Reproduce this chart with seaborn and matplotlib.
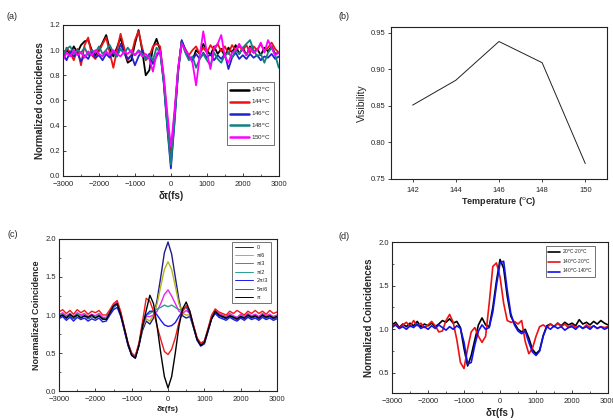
import numpy as np
import pandas as pd
import matplotlib
matplotlib.use("Agg")
import matplotlib.pyplot as plt
import seaborn as sns
from matplotlib.ticker import MultipleLocator

# eixo de atraso (fs), passo de 100 fs
tau = list(range(-3000, 3001, 100))

# (a) coincidencias normalizadas x temperatura
temp_labels = ["142$^{\\rm o}$C", "144$^{\\rm o}$C", "146$^{\\rm o}$C", "148$^{\\rm o}$C", "150$^{\\rm o}$C"]
temp_colors = ["#000000", "#ee1111", "#2222cc", "#118080", "#ff00ff"]
a_142 = [0.95, 1.00, 0.97, 1.03, 0.98, 1.04, 1.07, 1.08, 1.00, 0.96,
         1.00, 1.06, 1.12, 1.01, 0.95, 1.02, 1.10, 0.99, 0.90, 0.92,
         1.05, 1.16, 1.00, 0.80, 0.84, 1.02, 1.09, 1.00, 0.76, 0.42,
         0.15, 0.48, 0.84, 1.07, 1.00, 0.94, 0.92, 1.00, 0.97, 1.05,
         1.00, 0.96, 1.03, 0.97, 1.01, 0.95, 1.02, 0.98, 1.04, 0.97,
         1.02, 0.96, 1.03, 0.98, 1.01, 0.96, 1.02, 0.99, 1.03, 0.97, 0.98]
a_144 = [0.93, 1.02, 0.98, 0.92, 1.01, 0.88, 1.04, 1.10, 0.96, 0.93,
         0.99, 1.05, 1.10, 0.98, 0.86, 1.00, 1.13, 1.02, 0.92, 0.96,
         1.08, 1.15, 1.02, 0.92, 0.95, 1.03, 1.05, 1.03, 0.78, 0.45,
         0.12, 0.47, 0.85, 1.07, 1.01, 0.96, 1.00, 1.03, 0.97, 1.02,
         0.98, 1.04, 1.00, 1.05, 0.99, 1.03, 0.97, 1.04, 1.00, 1.03,
         1.00, 1.04, 0.98, 1.03, 1.00, 1.05, 0.99, 1.02, 1.06, 1.01, 0.98]
a_146 = [0.97, 0.92, 0.99, 0.95, 0.98, 0.91, 0.96, 0.93, 0.99, 0.94,
         0.96, 0.92, 0.97, 0.94, 0.99, 0.95, 1.05, 0.98, 0.93, 0.96,
         0.88, 0.95, 1.00, 0.93, 0.97, 0.89, 0.95, 1.00, 0.74, 0.38,
         0.06, 0.42, 0.82, 1.08, 1.00, 0.95, 0.92, 0.97, 0.93, 0.98,
         0.94, 0.97, 0.92, 0.96, 0.93, 0.97, 0.85, 0.94, 0.98, 0.93,
         0.96, 0.93, 0.97, 0.94, 0.96, 0.92, 0.95, 0.94, 0.97, 0.93, 0.95]
a_148 = [0.96, 1.01, 1.03, 0.97, 1.00, 0.98, 1.02, 0.96, 1.00, 0.98,
         1.03, 0.97, 1.00, 1.04, 0.98, 0.95, 1.01, 0.97, 1.02, 0.98,
         0.96, 1.00, 0.97, 0.93, 0.96, 0.92, 1.02, 0.98, 0.75, 0.40,
         0.09, 0.44, 0.83, 1.06, 0.98, 0.92, 0.95, 0.86, 0.93, 0.97,
         0.92, 0.88, 0.98, 0.93, 0.90, 0.96, 0.98, 0.94, 1.00, 0.97,
         1.02, 1.05, 1.08, 1.00, 0.95, 0.97, 0.90, 0.98, 1.02, 0.96, 0.86]
a_150 = [0.92, 0.98, 0.95, 1.00, 0.96, 0.98, 0.94, 0.99, 0.96, 1.00,
         0.97, 0.95, 0.99, 0.96, 1.00, 0.97, 0.95, 0.99, 0.97, 1.00,
         0.96, 0.99, 0.95, 0.97, 0.93, 0.83, 0.97, 1.00, 0.80, 0.50,
         0.23, 0.52, 0.86, 1.05, 1.00, 0.96, 0.90, 0.72, 0.95, 1.15,
         0.98, 0.85, 1.02, 1.05, 1.12, 0.95, 0.90, 0.98, 1.00, 1.05,
         1.00, 0.96, 1.02, 0.98, 1.00, 1.06, 0.98, 1.08, 1.02, 0.96, 0.98]

# (b) visibilidade x temperatura
temperatures = [142, 144, 146, 148, 150]
visibility = [0.851, 0.885, 0.938, 0.909, 0.771]

# (c) coincidencia x fase
phase_labels = ["0", "π/6", "π/3", "π/2", "2π/3", "5π/6", "π"]
phase_colors = ["#1c1c8c", "#b5b51a", "#ee22ee", "#2aa090", "#1a1aee", "#ee1a1a", "#000000"]
c_0 = [0.97, 1.00, 0.96, 0.99, 0.95, 1.00, 0.97, 0.99, 0.95, 0.98,
       0.96, 0.99, 0.94, 0.95, 1.02, 1.10, 1.14, 1.00, 0.80, 0.60,
       0.47, 0.44, 0.60, 0.80, 0.92, 0.88, 0.96, 1.20, 1.50, 1.82,
       1.96, 1.80, 1.50, 1.20, 0.99, 0.96, 0.98, 0.84, 0.67, 0.60,
       0.63, 0.79, 0.96, 1.04, 0.99, 0.97, 0.95, 0.99, 0.96, 0.94,
       0.98, 0.95, 0.99, 0.96, 0.98, 0.95, 0.99, 0.96, 0.98, 0.95, 0.97]
c_pi6 = [0.99, 1.02, 0.98, 1.01, 0.97, 1.02, 0.99, 1.01, 0.97, 1.00,
         0.98, 1.01, 0.96, 0.96, 1.04, 1.12, 1.16, 1.02, 0.81, 0.61,
         0.48, 0.45, 0.61, 0.84, 0.95, 0.92, 1.00, 1.15, 1.38, 1.60,
         1.70, 1.60, 1.38, 1.15, 1.02, 1.00, 1.00, 0.85, 0.68, 0.61,
         0.64, 0.80, 0.97, 1.05, 1.01, 0.99, 0.97, 1.01, 0.98, 0.96,
         1.00, 0.97, 1.01, 0.98, 1.00, 0.97, 1.01, 0.98, 1.00, 0.97, 0.99]
c_pi3 = [1.00, 1.03, 0.99, 1.02, 0.98, 1.03, 1.00, 1.02, 0.98, 1.01,
         0.99, 1.02, 0.97, 0.97, 1.05, 1.13, 1.17, 1.03, 0.82, 0.62,
         0.49, 0.46, 0.62, 0.86, 0.98, 0.98, 1.00, 1.05, 1.15, 1.27,
         1.33, 1.25, 1.15, 1.05, 1.02, 1.06, 1.02, 0.86, 0.69, 0.62,
         0.65, 0.81, 0.98, 1.06, 1.02, 1.00, 0.98, 1.02, 0.99, 0.97,
         1.01, 0.98, 1.02, 0.99, 1.01, 0.98, 1.02, 0.99, 1.01, 0.98, 1.00]
c_pi2 = [0.99, 1.01, 0.97, 1.00, 0.96, 1.01, 0.98, 1.00, 0.96, 0.99,
         0.97, 1.00, 0.95, 0.96, 1.03, 1.11, 1.15, 1.01, 0.81, 0.61,
         0.48, 0.45, 0.61, 0.87, 1.00, 1.02, 1.05, 1.08, 1.10, 1.13,
         1.11, 1.13, 1.10, 1.07, 1.07, 1.10, 1.03, 0.86, 0.68, 0.61,
         0.64, 0.80, 0.97, 1.05, 1.00, 0.98, 0.96, 1.00, 0.97, 0.95,
         0.99, 0.96, 1.00, 0.97, 0.99, 0.96, 1.00, 0.97, 0.99, 0.96, 0.98]
c_2pi3 = [0.95, 0.98, 0.93, 0.97, 0.92, 0.97, 0.94, 0.96, 0.92, 0.95,
          0.93, 0.96, 0.91, 0.92, 1.00, 1.07, 1.10, 0.98, 0.79, 0.60,
          0.47, 0.44, 0.60, 0.88, 1.00, 1.05, 1.05, 1.00, 0.93, 0.87,
          0.85, 0.86, 0.90, 0.98, 1.05, 1.12, 1.02, 0.84, 0.67, 0.59,
          0.62, 0.78, 0.95, 1.02, 0.97, 0.95, 0.93, 0.97, 0.94, 0.92,
          0.96, 0.93, 0.97, 0.94, 0.96, 0.93, 0.97, 0.94, 0.96, 0.93, 0.95]
c_5pi6 = [1.04, 1.07, 1.02, 1.06, 1.01, 1.07, 1.03, 1.06, 1.01, 1.05,
          1.03, 1.06, 1.00, 1.00, 1.07, 1.15, 1.19, 1.04, 0.83, 0.63,
          0.50, 0.46, 0.63, 0.92, 1.22, 1.18, 1.05, 0.85, 0.68, 0.52,
          0.48, 0.55, 0.70, 0.90, 1.05, 1.12, 1.05, 0.87, 0.70, 0.63,
          0.66, 0.82, 1.00, 1.08, 1.04, 1.02, 1.00, 1.05, 1.02, 1.06,
          1.03, 1.00, 1.05, 1.02, 1.06, 1.02, 1.05, 1.01, 1.06, 1.02, 1.04]
c_pi = [0.98, 1.00, 0.96, 1.01, 0.97, 1.00, 0.96, 0.99, 0.97, 1.00,
        0.96, 0.99, 0.95, 0.94, 1.03, 1.12, 1.15, 1.00, 0.82, 0.62,
        0.47, 0.43, 0.60, 0.85, 1.06, 1.26, 1.15, 0.85, 0.50, 0.19,
        0.04, 0.19, 0.50, 0.85, 1.08, 1.17, 1.05, 0.85, 0.68, 0.60,
        0.64, 0.80, 0.95, 1.05, 1.00, 0.98, 0.96, 0.99, 0.97, 0.95,
        0.98, 0.96, 1.00, 0.97, 0.99, 0.96, 1.00, 0.97, 0.99, 0.96, 0.98]

# (d) coincidencias x temperatura dos cristais
pair_labels = ["20$^{\\rm o}$C-20$^{\\rm o}$C", "140$^{\\rm o}$C-20$^{\\rm o}$C", "140$^{\\rm o}$C-140$^{\\rm o}$C"]
pair_colors = ["#000000", "#ee1111", "#1111ee"]
d_20_20 = [1.05, 1.08, 1.02, 1.06, 1.03, 1.07, 1.04, 1.09, 1.03, 1.06,
           1.04, 1.07, 1.03, 1.06, 1.10, 1.08, 1.12, 1.07, 1.09, 1.02,
           0.78, 0.58, 0.70, 0.88, 1.05, 1.13, 1.05, 1.03, 1.25, 1.55,
           1.80, 1.70, 1.38, 1.15, 1.07, 1.00, 0.97, 1.00, 0.90, 0.77,
           0.72, 0.76, 0.93, 1.04, 1.06, 1.03, 1.07, 1.04, 1.08, 1.05,
           1.07, 1.04, 1.11, 1.06, 1.08, 1.05, 1.09, 1.06, 1.10, 1.07, 1.05]
d_140_20 = [1.03, 1.06, 1.01, 1.05, 1.08, 1.03, 1.10, 1.04, 1.07, 1.02,
            1.05, 1.09, 1.04, 0.97, 0.98, 1.10, 1.17, 1.08, 0.88, 0.62,
            0.55, 0.78, 0.97, 1.02, 0.92, 0.85, 0.92, 1.30, 1.72, 1.76,
            1.60, 1.30, 1.10, 1.08, 1.09, 1.06, 1.10, 0.86, 0.72, 0.78,
            0.92, 1.03, 1.05, 1.02, 1.06, 1.03, 1.07, 1.03, 1.06, 1.02,
            1.05, 1.02, 1.04, 1.01, 1.05, 1.02, 1.04, 1.01, 1.03, 1.02, 1.03]
d_140_140 = [1.02, 1.05, 1.01, 1.03, 1.00, 1.04, 1.02, 1.06, 1.01, 1.03,
             1.00, 1.04, 1.01, 1.05, 1.02, 0.99, 1.03, 1.00, 1.04, 1.01,
             0.85, 0.60, 0.62, 0.82, 0.98, 1.05, 1.00, 1.02, 1.20, 1.50,
             1.76, 1.78, 1.45, 1.18, 1.05, 0.98, 0.95, 0.98, 0.85, 0.74,
             0.70, 0.75, 0.92, 1.03, 1.00, 1.04, 1.01, 1.03, 0.99, 1.02,
             1.03, 1.00, 1.04, 1.01, 1.03, 1.00, 1.04, 1.01, 1.03, 1.00, 1.02]

# estilo
sns.set_style("ticks")
plt.rcParams['font.family'] = ['Liberation Sans', 'DejaVu Sans']
plt.rcParams['mathtext.default'] = 'regular'
plt.rcParams['axes.linewidth'] = 0.8

fig = plt.figure(figsize=(6.13, 4.2), dpi=100)
ax_a = fig.add_axes([0.1028, 0.581, 0.352, 0.3595])
ax_b = fig.add_axes([0.638, 0.574, 0.352, 0.362])
ax_c = fig.add_axes([0.0963, 0.069, 0.3556, 0.362])
ax_d = fig.add_axes([0.6395, 0.0643, 0.3524, 0.3595])


def style_axes(ax, fs=5.5):
    for s in ax.spines.values():
        s.set_visible(True)
        s.set_color("#222222")
        s.set_linewidth(0.8)
    ax.tick_params(axis='both', which='major', direction='in', length=2.5, width=0.6,
                   labelsize=fs, pad=2, top=False, right=False)
    ax.tick_params(axis='x', which='major', pad=3.5)
    ax.tick_params(axis='both', which='minor', direction='in', length=1.5, width=0.5,
                   top=False, right=False)


# (a)
for vals, lab, col in zip([a_142, a_144, a_146, a_148, a_150], temp_labels, temp_colors):
    sns.lineplot(x=tau, y=vals, color=col, lw=1.3, label=lab, ax=ax_a)
ax_a.set_xlim(-3000, 3000)
ax_a.set_ylim(0, 1.2)
ax_a.xaxis.set_major_locator(MultipleLocator(1000))
ax_a.xaxis.set_minor_locator(MultipleLocator(500))
ax_a.yaxis.set_major_locator(MultipleLocator(0.2))
ax_a.set_xlabel("δτ(fs)", fontsize=7, fontweight='bold', labelpad=2)
ax_a.set_ylabel("Normalized coincidences", fontsize=7, fontweight='bold', labelpad=3)
style_axes(ax_a)
leg = ax_a.legend(loc='upper right', bbox_to_anchor=(0.99, 0.64), fontsize=4.5,
                  frameon=True, fancybox=False, edgecolor='#333333', handlelength=3.0,
                  borderpad=0.5, labelspacing=0.6, handletextpad=0.3)
leg.get_frame().set_linewidth(0.6)
for h in leg.get_lines():
    h.set_linewidth(1.8)

# (b)
sns.lineplot(x=temperatures, y=visibility, color="#222222", lw=0.7, ax=ax_b)
ax_b.set_xlim(141, 151)
ax_b.set_ylim(0.75, 0.958)
ax_b.set_xticks(temperatures)
ax_b.yaxis.set_major_locator(MultipleLocator(0.05))
ax_b.yaxis.set_major_formatter(plt.FormatStrFormatter('%.2f'))
ax_b.set_xlabel("Temperature ($^{\\rm o}$C)", fontsize=6.5, fontweight='bold', labelpad=1)
ax_b.set_ylabel("Visibility", fontsize=7.5, labelpad=3)
style_axes(ax_b)
ax_b.tick_params(direction='out', length=2)

# (c)
for vals, lab, col in zip([c_0, c_pi6, c_pi3, c_pi2, c_2pi3, c_5pi6, c_pi], phase_labels, phase_colors):
    sns.lineplot(x=tau, y=vals, color=col, lw=1.0, label=lab, ax=ax_c)
ax_c.set_xlim(-3000, 3000)
ax_c.set_ylim(0, 2.0)
ax_c.xaxis.set_major_locator(MultipleLocator(1000))
ax_c.xaxis.set_minor_locator(MultipleLocator(500))
ax_c.yaxis.set_major_locator(MultipleLocator(0.5))
ax_c.yaxis.set_minor_locator(MultipleLocator(0.25))
ax_c.set_xlabel("δτ(fs)", fontsize=6, fontweight='bold', labelpad=2)
ax_c.set_ylabel("Noramalized Coincidence", fontsize=6.5, fontweight='bold', labelpad=3)
style_axes(ax_c)
leg = ax_c.legend(loc='upper right', bbox_to_anchor=(0.985, 1.0), fontsize=4, frameon=True,
                  fancybox=False, edgecolor='#333333', handlelength=3.2, borderpad=0.5,
                  labelspacing=0.62, handletextpad=0.7)
leg.get_frame().set_linewidth(0.6)
for h in leg.get_lines():
    h.set_linewidth(0.7)

# (d)
for vals, lab, col in zip([d_20_20, d_140_20, d_140_140], pair_labels, pair_colors):
    sns.lineplot(x=tau, y=vals, color=col, lw=1.2, label=lab, ax=ax_d)
ax_d.set_xlim(-3000, 3000)
ax_d.set_ylim(0.27, 2.0)
ax_d.xaxis.set_major_locator(MultipleLocator(1000))
ax_d.xaxis.set_minor_locator(MultipleLocator(500))
ax_d.yaxis.set_major_locator(MultipleLocator(0.5))
ax_d.yaxis.set_minor_locator(MultipleLocator(0.25))
ax_d.set_xlabel("δτ(fs )", fontsize=7, fontweight='bold', labelpad=2)
ax_d.set_ylabel("Normalized Coincidences", fontsize=7, fontweight='bold', labelpad=3)
style_axes(ax_d)
leg = ax_d.legend(loc='upper right', bbox_to_anchor=(0.95, 0.99), fontsize=3.5, frameon=True,
                  fancybox=False, edgecolor='#333333', handlelength=2.5, borderpad=0.4,
                  labelspacing=0.3, handletextpad=0.3)
leg.get_frame().set_linewidth(0.6)
for h in leg.get_lines():
    h.set_linewidth(1.2)

# rotulos dos paineis
fig.text(0.010, 0.955, "(a)", fontsize=6.5)
fig.text(0.552, 0.955, "(b)", fontsize=6.5)
fig.text(0.012, 0.435, "(c)", fontsize=6.5)
fig.text(0.552, 0.430, "(d)", fontsize=6.5)

fig.savefig("out.png", dpi=100)
